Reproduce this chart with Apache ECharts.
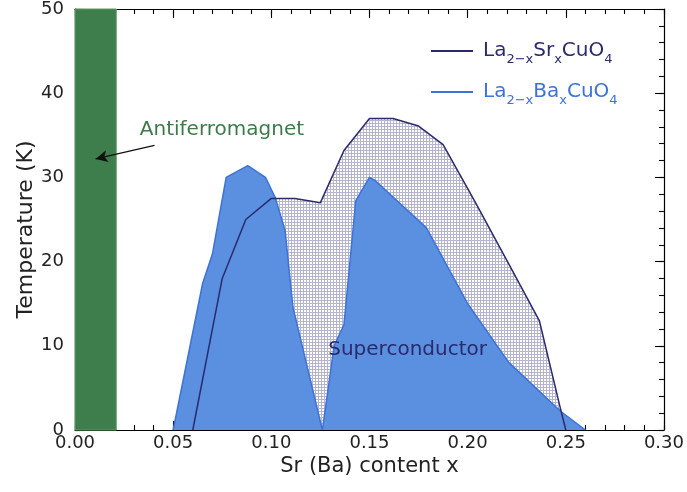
<!DOCTYPE html>
<html><head><meta charset="utf-8">
<script src="https://cdn.jsdelivr.net/npm/echarts@6/dist/echarts.min.js"></script>
<style>html,body{margin:0;padding:0;background:#fff}#c{width:687px;height:492px}</style>
</head><body><div id="c"></div>
<script>
// La(2-x)Sr(x)CuO4 : [x, Tc (K)]
const srData = [[0.060,0],[0.075,18],[0.087,25],[0.100,27.5],[0.112,27.5],[0.125,27],[0.137,33.2],[0.150,37],[0.162,37],[0.175,36.1],[0.1875,33.9],[0.204,27],[0.221,19.7],[0.2365,13],[0.247,2.8],[0.250,0]];
// La(2-x)Ba(x)CuO4 : [x, Tc (K)]
const baData = [[0.050,0],[0.065,17.4],[0.070,20.9],[0.077,30],[0.088,31.4],[0.097,30],[0.102,27.6],[0.107,23.7],[0.111,14.6],[0.126,0],[0.132,10],[0.137,12.5],[0.143,27.2],[0.150,30],[0.153,29.6],[0.179,24],[0.200,15],[0.221,8],[0.2475,2.2],[0.260,0]];
const afmRange = [0, 0.021];
const xTicks = [0, 0.05, 0.10, 0.15, 0.20, 0.25, 0.30];
const yTicks = [0, 10, 20, 30, 40, 50];
const seriesNames = ['La2-xSrxCuO4', 'La2-xBaxCuO4'];
const afmLabel = 'Antiferromagnet';
const scLabel = 'Superconductor';

const pat = document.createElement('canvas');
pat.width = 3; pat.height = 3;
const pc = pat.getContext('2d');
pc.fillStyle = '#b4b4cc'; pc.fillRect(0,0,3,3);
pc.fillStyle = '#ffffff'; pc.fillRect(1,1,2,2);

const FONT = 'DejaVu Sans';
const NAVY = '#2b2a6c', BLUE = '#3d72d8', GREEN = '#3e7d4c';
const X0 = xTicks[0], X1 = xTicks[xTicks.length-1], Y0 = yTicks[0], Y1 = yTicks[yTicks.length-1];

function ax(opts, major){
  return Object.assign({
    type:'value',
    axisLine:{show:major, onZero:false, lineStyle:{color:'#000', width:1.2}},
    axisTick:{show:true, inside:true, length:major?9:5, lineStyle:{color:'#000', width:1.1}},
    axisLabel:{show:false},
    splitLine:{show:false}
  }, opts);
}

const chart = echarts.init(document.getElementById('c'), null, {renderer:'canvas'});
chart.setOption({
  animation:false,
  grid:{left:75, right:20, top:8, bottom:62, containLabel:false},
  legend:{
    orient:'vertical', left:426, top:36, itemGap:16, itemWidth:42, itemHeight:2,
    icon:'rect', data:seriesNames,
    formatter:function(n){
      const k = n.indexOf('Sr')>=0 ? '1':'2';
      const el = n.indexOf('Sr')>=0 ? 'Sr':'Ba';
      return '{a'+k+'|La}{s'+k+'|2−x}{a'+k+'|'+el+'}{s'+k+'|x}{a'+k+'|CuO}{s'+k+'|4}';
    },
    textStyle:{
      padding:[0,0,0,5],
      rich:{
        a1:{fontFamily:FONT, fontSize:20, color:NAVY, lineHeight:30, verticalAlign:'middle'},
        s1:{fontFamily:FONT, fontSize:13, color:NAVY, lineHeight:14, verticalAlign:'bottom'},
        a2:{fontFamily:FONT, fontSize:20, color:BLUE, lineHeight:30, verticalAlign:'middle'},
        s2:{fontFamily:FONT, fontSize:13, color:BLUE, lineHeight:14, verticalAlign:'bottom'}
      }
    }
  },
  xAxis:[
    ax({min:X0, max:X1, interval:0.05, position:'bottom',
      name:'Sr (Ba) content x', nameLocation:'middle', nameGap:26, nameMoveOverlap:false,
      nameTextStyle:{fontFamily:FONT, fontSize:21, color:'#222'},
      axisLabel:{show:true, margin:4, fontFamily:FONT, fontSize:18, color:'#222', formatter:v=>v.toFixed(2)}}, true),
    ax({min:X0, max:X1, interval:0.05, position:'top'}, true),
    ax({min:X0, max:X1, interval:0.01, position:'bottom'}, false),
    ax({min:X0, max:X1, interval:0.01, position:'top'}, false)
  ],
  yAxis:[
    ax({min:Y0, max:Y1, interval:10, position:'left',
      name:'Temperature (K)', nameLocation:'middle', nameGap:38, nameRotate:90, nameMoveOverlap:false,
      nameTextStyle:{fontFamily:FONT, fontSize:22, color:'#222', padding:[0,20,0,0]},
      axisLabel:{show:true, margin:11, fontFamily:FONT, fontSize:18, color:'#222'}}, true),
    ax({min:Y0, max:Y1, interval:10, position:'right'}, true),
    ax({min:Y0, max:Y1, interval:2, position:'left'}, false),
    ax({min:Y0, max:Y1, interval:2, position:'right'}, false)
  ],
  series:[
    {
      name:'afm', type:'line', data:[], silent:true,
      markArea:{silent:true, itemStyle:{color:GREEN, borderColor:'#5f9c63', borderWidth:1},
        data:[[{xAxis:afmRange[0], yAxis:Y0},{xAxis:afmRange[1], yAxis:Y1}]]},
      markLine:{silent:true, symbol:['none','arrow'], symbolSize:[9,12],
        lineStyle:{color:'#111', width:1.3, type:'solid'}, label:{show:false},
        data:[[{coord:[0.0405,33.8]},{coord:[0.0105,32.2]}]]},
      markPoint:{silent:true, symbol:'circle', symbolSize:0,
        data:[
          {coord:[0.033,35.6], label:{show:true, position:'right', distance:0, formatter:afmLabel, fontFamily:FONT, fontSize:20, color:'#3d7a4a'}},
          {coord:[0.129,9.5], label:{show:true, position:'right', distance:0, formatter:scLabel, fontFamily:FONT, fontSize:20, color:NAVY}}
        ]}
    },
    {
      name:'srFill', type:'line', data:srData, symbol:'none', silent:true,
      lineStyle:{width:0}, areaStyle:{color:{image:pat, repeat:'repeat'}, opacity:1}
    },
    {
      name:seriesNames[1], type:'line', data:baData, symbol:'none', color:BLUE,
      lineStyle:{color:BLUE, width:1.5}, areaStyle:{color:'#5b8fe0', opacity:1}
    },
    {
      name:seriesNames[0], type:'line', data:srData, symbol:'none', color:NAVY,
      lineStyle:{color:NAVY, width:1.5}, z:5
    }
  ]
});
</script></body></html>
